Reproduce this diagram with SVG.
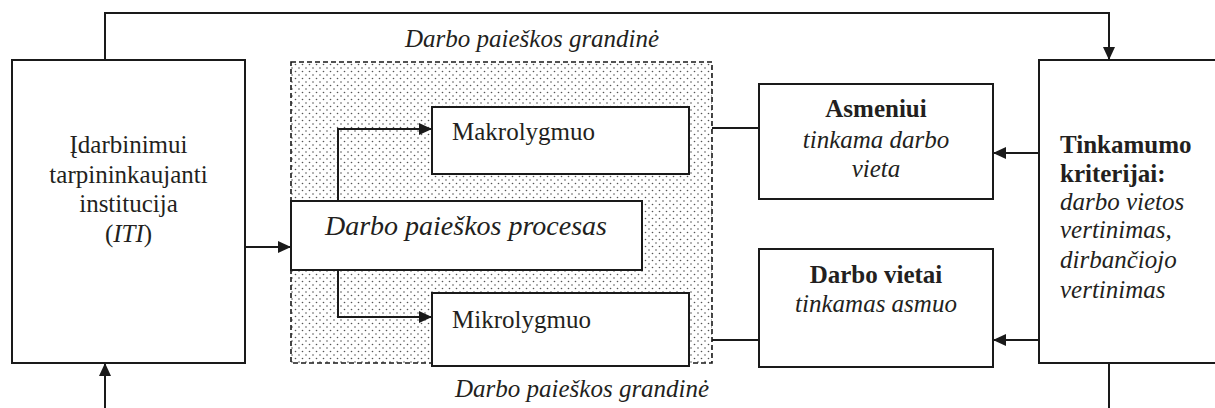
<svg xmlns="http://www.w3.org/2000/svg" width="1215" height="408" viewBox="0 0 1215 408">
<style>
.box{fill:#fff;stroke:#1a1a1a;stroke-width:2}
.grp{stroke:#1a1a1a;stroke-width:1.6;stroke-dasharray:5 3}
.t{font-family:"Liberation Serif","Times New Roman",serif;font-size:25px;fill:#231f20}
.i{font-style:italic}
.b{font-weight:bold}
.c{text-anchor:middle}
.ln{fill:none;stroke:#1a1a1a;stroke-width:2}
</style>
<defs>
<pattern id="dots" width="7" height="7" patternUnits="userSpaceOnUse">
<rect width="7" height="7" fill="#fff"/>
<circle cx="1.5" cy="1.5" r="0.8" fill="#555"/>
<circle cx="5" cy="5" r="0.8" fill="#555"/>
</pattern>
<marker id="ah" markerUnits="userSpaceOnUse" markerWidth="14" markerHeight="12" refX="13" refY="6" orient="auto">
<path d="M0,0 L13,6 L0,12 z" fill="#1a1a1a"/>
</marker>
</defs>
<g id="chain">
<rect class="grp" x="291" y="62" width="421" height="301" fill="url(#dots)"/>
<text class="t i" x="405" y="47">Darbo paieškos grandinė</text>
<text class="t i" x="455" y="397">Darbo paieškos grandinė</text>
</g>
<g id="connectors">
<path class="ln" d="M105,60 V13 H1109 V60" marker-end="url(#ah)"/>
<path class="ln" d="M1109,363 V408"/>
<path class="ln" d="M105,408 V363" marker-end="url(#ah)"/>
<path class="ln" d="M245,247 H291" marker-end="url(#ah)"/>
<path class="ln" d="M338,201 V129 H432" marker-end="url(#ah)"/>
<path class="ln" d="M338,270 V317 H432" marker-end="url(#ah)"/>
<path class="ln" d="M712,128 H759"/>
<path class="ln" d="M712,340 H759"/>
<path class="ln" d="M1039,153 H993" marker-end="url(#ah)"/>
<path class="ln" d="M1039,340 H993" marker-end="url(#ah)"/>
</g>
<g id="iti">
<rect class="box" x="12" y="60" width="233" height="303"/>
<text class="t c" x="128.5" y="153">Įdarbinimui</text>
<text class="t c" x="128.5" y="183">tarpininkaujanti</text>
<text class="t c" x="128.5" y="212">institucija</text>
<text class="t c" x="128.5" y="242">(<tspan class="i">ITI</tspan>)</text>
</g>
<g id="makro">
<rect class="box" x="432" y="107" width="257" height="67"/>
<text class="t" x="452" y="140">Makrolygmuo</text>
</g>
<g id="procesas">
<rect class="box" x="291" y="201" width="351" height="69"/>
<text class="t i c" x="466" y="235" style="font-size:28px">Darbo paieškos procesas</text>
</g>
<g id="mikro">
<rect class="box" x="432" y="293" width="257" height="73"/>
<text class="t" x="452" y="328">Mikrolygmuo</text>
</g>
<g id="asmeniui">
<rect class="box" x="759" y="84" width="234" height="115"/>
<text class="t b c" x="876" y="117">Asmeniui</text>
<text class="t i c" x="876" y="148">tinkama darbo</text>
<text class="t i c" x="876" y="177">vieta</text>
</g>
<g id="darbovietai">
<rect class="box" x="759" y="249" width="234" height="118"/>
<text class="t b c" x="876" y="283">Darbo vietai</text>
<text class="t i c" x="876" y="312">tinkamas asmuo</text>
</g>
<g id="kriterijai">
<rect class="box" x="1039" y="60" width="190" height="303"/>
<text class="t b" x="1060" y="153">Tinkamumo</text>
<text class="t b" x="1060" y="182">kriterijai:</text>
<text class="t i" x="1060" y="210">darbo vietos</text>
<text class="t i" x="1060" y="238">vertinimas,</text>
<text class="t i" x="1060" y="268">dirbančiojo</text>
<text class="t i" x="1060" y="298">vertinimas</text>
</g>
</svg>
